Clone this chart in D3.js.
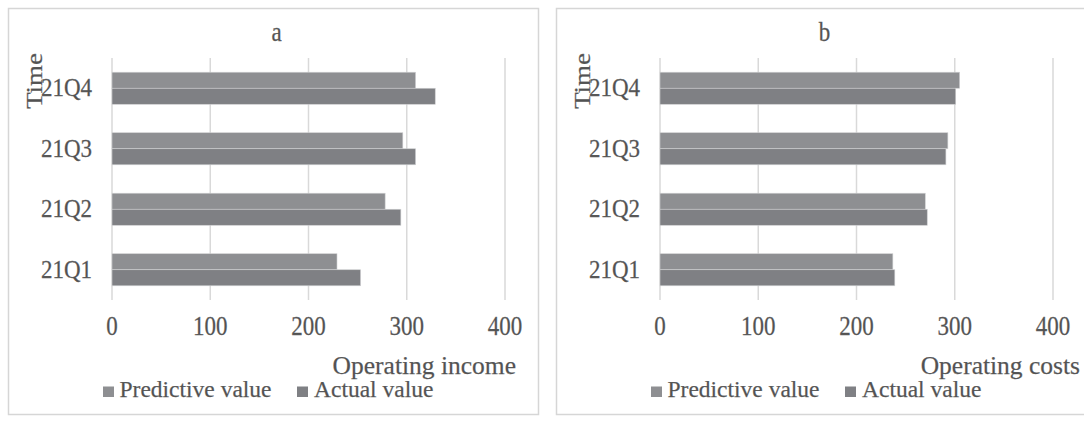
<!DOCTYPE html>
<html>
<head>
<meta charset="utf-8">
<script src="https://cdn.jsdelivr.net/npm/d3@7"></script>
<style>
  html, body { margin: 0; padding: 0; background: #ffffff; }
  svg { display: block; }
  text { font-family: "Liberation Serif", "Times New Roman", serif; fill: #525252;
         stroke: #6a6a6a; stroke-width: 0.25px; }
</style>
</head>
<body>
<svg id="chart" width="1084" height="423"></svg>
<script>
// Quarterly categories (drawn top to bottom as 21Q4 … 21Q1)
const quarters = ["21Q1", "21Q2", "21Q3", "21Q4"];
const seriesNames = ["Predictive value", "Actual value"];
const xTicks = [0, 100, 200, 300, 400];

// Panel a: operating income
const incomePredicted = [229, 278, 296, 309];
const incomeActual = [253, 294, 309, 329];

// Panel b: operating costs
const costPredicted = [237, 270, 293, 305];
const costActual = [239, 272, 291, 301];

const panels = [
  { title: "a", axisTitle: "Operating income", pred: incomePredicted, act: incomeActual,
    dx: 0, axisTitleEnd: 516 },
  { title: "b", axisTitle: "Operating costs", pred: costPredicted, act: costActual,
    dx: 548, axisTitleEnd: 1080 }
];

const colors = { "Predictive value": "#8e8f92", "Actual value": "#7f8084" };
const svg = d3.select("#chart");

function addText(g, str, x, y, size, anchor, opts = {}) {
  const rot = opts.rotate || 0, sx = opts.sx || 1, sy = opts.sy || 1;
  return g.append("text")
    .attr("transform", `translate(${x},${y}) rotate(${rot}) scale(${sx},${sy})`)
    .attr("text-anchor", anchor)
    .style("font-size", size + "px")
    .text(str);
}

panels.forEach(p => {
  const g = svg.append("g").attr("transform", `translate(${p.dx},0)`);

  // panel frame
  g.append("rect")
    .attr("x", 8.5).attr("y", 8.5).attr("width", 530).attr("height", 406)
    .attr("fill", "#ffffff").attr("stroke", "#d6d6d6").attr("stroke-width", 1.5);

  const x = d3.scaleLinear().domain([0, 400]).range([112, 505]);
  const y = d3.scaleBand().domain(quarters.slice().reverse())
    .range([58, 300]).paddingInner(0.47).paddingOuter(0.235);
  const ySub = d3.scaleBand().domain(seriesNames).range([0, y.bandwidth()]);

  // vertical gridlines
  g.append("g").selectAll("line").data(xTicks).join("line")
    .attr("x1", d => x(d)).attr("x2", d => x(d))
    .attr("y1", 58).attr("y2", 300)
    .attr("stroke", "#d9d9d9").attr("stroke-width", 1.5);

  // bars
  const rows = quarters.map((q, i) => ({ q, vals: [
    { s: "Predictive value", v: p.pred[i] },
    { s: "Actual value", v: p.act[i] }
  ]}));
  g.append("g").selectAll("g").data(rows).join("g")
    .attr("transform", d => `translate(0,${y(d.q)})`)
    .selectAll("rect").data(d => d.vals).join("rect")
    .attr("x", x(0))
    .attr("y", d => ySub(d.s))
    .attr("width", d => x(d.v) - x(0))
    .attr("height", ySub.bandwidth())
    .attr("fill", d => colors[d.s])
    .attr("stroke", "#cfd0d2").attr("stroke-width", 0.6);

  // category labels
  quarters.forEach(q => {
    addText(g, q, x(0) - 20, y(q) + y.bandwidth() / 2 + 8, 23, "end", { sy: 1.07 });
  });

  // value tick labels
  xTicks.forEach(t => {
    addText(g, String(t), x(t), 335, 23, "middle", { sy: 1.2 });
  });

  // titles
  addText(g, p.title, 276.5, 41, 23, "middle", { sy: 1.2 });
  addText(g, "Time", 42, 81, 24, "middle", { rotate: -90, sx: 1.12 });
  addText(g, p.axisTitle, p.axisTitleEnd - p.dx, 374, 25.5, "end");

  // legend
  const legendX = [[103, 119.5], [297, 314]];
  seriesNames.forEach((s, i) => {
    g.append("rect")
      .attr("x", legendX[i][0]).attr("y", 386.5).attr("width", 11).attr("height", 10.5)
      .attr("fill", colors[s]);
    addText(g, s, legendX[i][1], 397, 23.5, "start");
  });
});
</script>
</body>
</html>
